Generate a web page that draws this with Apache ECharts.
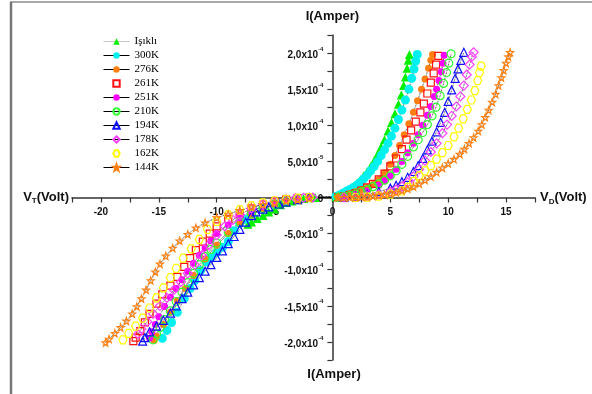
<!DOCTYPE html>
<html>
<head>
<meta charset="utf-8">
<script src="https://cdn.jsdelivr.net/npm/echarts@6/dist/echarts.min.js"></script>
<style>
  html, body { margin: 0; padding: 0; background: #fff; }
  #main { width: 592px; height: 394px; }
</style>
</head>
<body>
<div id="main"></div>
<script>
// series names (legend order)
var names = ['Işıklı', '300K', '276K', '261K', '251K', '210K', '194K', '178K', '162K', '144K'];

// current in units of 1e-5 A, voltage in V
// forward side (V_D > 0)
var fwdLight = [[0.3,0.1],[0.6,0.3],[0.9,0.5],[1.2,0.8],[1.5,1.1],[1.8,1.5],[2.1,1.9],[2.4,2.4],[2.7,3.0],[3.0,3.6],[3.3,4.3],[3.6,5.1],[3.9,6.0],[4.2,7.0],[4.5,8.0],[4.8,9.2],[5.1,10.4],[5.4,11.6],[5.7,12.9],[5.95,14.2],[6.15,15.5],[6.3,16.7],[6.45,17.9],[6.55,19.0],[6.65,19.8]];
var fwd300 = [[0.3,0.15],[0.6,0.35],[0.9,0.6],[1.2,0.85],[1.5,1.1],[1.8,1.4],[2.1,1.7],[2.4,2.1],[2.7,2.6],[3.0,3.1],[3.3,3.7],[3.6,4.3],[3.9,5.0],[4.2,5.8],[4.5,6.6],[4.8,7.5],[5.1,8.5],[5.4,9.6],[5.7,10.8],[6.0,12.1],[6.3,13.5],[6.6,15.0],[6.85,16.5],[7.05,17.8],[7.2,18.9],[7.33,19.8]];
var fwd276 = [[0.5,0.1],[1.0,0.3],[1.5,0.55],[2.0,0.8],[2.5,1.1],[3.0,1.4],[3.5,1.8],[4.0,2.5],[4.5,3.4],[5.0,4.6],[5.4,5.8],[5.8,7.2],[6.2,8.7],[6.6,10.2],[7.0,11.8],[7.35,13.4],[7.7,15.0],[8.0,16.4],[8.3,17.9],[8.5,19.0],[8.65,19.8]];
var fwd261 = [[0.5,0.05],[1.0,0.15],[1.5,0.35],[2.0,0.6],[2.5,0.95],[3.0,1.4],[3.5,1.9],[4.0,2.5],[4.5,3.3],[5.0,4.3],[5.5,5.4],[6.0,6.7],[6.4,8.0],[6.8,9.3],[7.2,10.5],[7.6,11.8],[7.9,13.0],[8.2,14.4],[8.5,15.9],[8.75,17.2],[8.95,18.4],[9.15,19.6]];
var fwd251 = [[1.0,0.1],[2.0,0.4],[3.0,0.9],[4.0,1.7],[4.5,2.3],[5.0,3.0],[5.5,3.9],[6.0,5.0],[6.5,6.2],[7.0,7.5],[7.4,8.7],[7.8,10.0],[8.2,11.4],[8.5,12.6],[8.8,14.0],[9.0,15.0],[9.2,16.2],[9.4,17.4],[9.55,18.6],[9.65,19.7]];
var fwd210 = [[0.5,0.05],[1.0,0.15],[1.5,0.3],[2.0,0.5],[2.5,0.8],[3.0,1.1],[3.5,1.5],[4.0,1.9],[4.5,2.4],[5.0,3.0],[5.5,3.7],[6.0,4.6],[6.5,5.7],[7.0,7.0],[7.4,8.0],[7.8,9.0],[8.2,10.1],[8.6,11.3],[8.95,12.5],[9.3,14.1],[9.6,15.8],[9.85,17.3],[10.05,18.6],[10.25,19.9]];
var fwd194 = [[1.0,0.02],[2.0,0.15],[3.0,0.4],[4.0,0.8],[5.0,1.3],[5.5,1.7],[6.0,2.2],[6.5,2.8],[7.0,3.6],[7.4,4.4],[7.8,5.4],[8.2,6.6],[8.6,7.8],[9.0,9.1],[9.35,10.4],[9.7,11.8],[10.0,13.3],[10.3,14.9],[10.6,16.5],[10.85,17.8],[11.1,19.0],[11.35,20.1]];
var fwd178 = [[1.0,0.0],[2.0,0.05],[3.0,0.2],[4.0,0.45],[5.0,0.8],[5.5,1.1],[6.0,1.5],[6.5,2.1],[7.0,2.9],[7.5,3.9],[8.0,5.1],[8.5,6.3],[9.0,7.5],[9.5,8.9],[9.9,10.1],[10.3,11.3],[10.7,12.6],[11.05,14.0],[11.35,15.5],[11.6,17.0],[11.85,18.4],[12.05,19.5],[12.2,20.1]];
var fwd162 = [[2.0,0.0],[3.0,0.05],[4.0,0.2],[5.0,0.45],[6.0,0.9],[6.5,1.4],[7.0,2.2],[7.5,3.0],[8.0,3.7],[8.5,4.4],[9.0,5.3],[9.5,6.2],[10.0,7.2],[10.5,8.4],[10.9,9.6],[11.3,10.9],[11.65,12.2],[12.0,13.5],[12.3,14.8],[12.55,16.2],[12.7,17.3],[12.85,18.2]];
var fwd144 = [[0.5,0],[1.0,0],[1.5,0.02],[2.0,0.05],[2.5,0.08],[3.0,0.1],[3.5,0.2],[4.0,0.3],[4.5,0.4],[5.0,0.55],[5.5,0.7],[6.0,0.95],[6.5,1.2],[7.0,1.5],[7.5,1.9],[8.0,2.4],[8.5,2.9],[9.0,3.5],[9.5,4.1],[10.0,4.7],[10.5,5.3],[11.0,6.0],[11.4,6.7],[11.8,7.5],[12.2,8.3],[12.6,9.2],[12.9,10.1],[13.2,11.1],[13.5,12.1],[13.8,13.2],[14.1,14.3],[14.35,15.5],[14.6,16.6],[14.8,17.6],[15.0,18.6],[15.2,19.5],[15.35,20.1]];

// reverse side (V_T < 0)
var revLight = [[-1.5,0],[-2.0,-0.05],[-2.5,-0.15],[-3.0,-0.3],[-3.5,-0.5],[-4.0,-0.7],[-4.5,-1.0],[-5.0,-1.6],[-5.5,-2.0],[-6.0,-2.5],[-6.5,-2.9],[-7.0,-3.4],[-7.3,-3.7]];
var rev300 = [[-2.0,0],[-3.0,-0.2],[-4.0,-0.5],[-5.0,-0.9],[-6.0,-1.5],[-7.0,-2.4],[-7.5,-3.0],[-8.0,-3.6],[-8.5,-4.6],[-9.0,-6.1],[-9.5,-6.9],[-10.0,-7.6],[-10.5,-8.3],[-10.9,-8.9],[-11.4,-10.1],[-11.9,-11.5],[-12.3,-12.6],[-12.8,-14.0],[-13.4,-15.9],[-13.9,-17.3],[-14.3,-18.4],[-14.7,-19.5]];
var rev276 = [[-2.0,0],[-3.0,-0.2],[-4.0,-0.5],[-5.0,-1.0],[-6.0,-1.6],[-7.0,-2.5],[-8.0,-3.6],[-9.0,-5.0],[-10.0,-6.6],[-11.0,-8.5],[-12.0,-10.8],[-12.7,-12.6],[-13.4,-14.3],[-14.0,-15.9],[-14.6,-17.6],[-15.2,-19.2],[-15.4,-19.8]];
var rev261 = [[-2.0,0],[-3.0,-0.1],[-4.0,-0.3],[-5.0,-0.6],[-6.0,-1.0],[-7.0,-1.5],[-8.0,-2.2],[-9.0,-3.0],[-10.0,-4.0],[-10.6,-5.0],[-11.2,-6.1],[-11.8,-7.3],[-12.3,-8.4],[-12.8,-9.6],[-13.4,-11.0],[-14.0,-12.2],[-14.7,-13.4],[-15.2,-14.7],[-15.8,-16.1],[-16.2,-17.3],[-16.6,-18.5],[-17.0,-19.4],[-17.2,-19.9]];
var rev251 = [[-2.0,0],[-3.0,-0.15],[-4.0,-0.4],[-5.0,-0.75],[-6.0,-1.2],[-7.0,-1.9],[-8.0,-2.8],[-9.0,-3.8],[-10.0,-5.0],[-10.5,-6.0],[-11.0,-7.0],[-11.5,-8.0],[-12.0,-9.1],[-12.5,-10.2],[-13.0,-11.4],[-13.5,-12.6],[-14.0,-13.8],[-14.5,-15.1],[-15.0,-16.5],[-15.3,-17.6],[-15.6,-18.6],[-15.8,-19.5]];
var rev210 = [[-2.0,0],[-3.0,-0.2],[-4.0,-0.5],[-5.0,-0.9],[-6.0,-1.5],[-7.0,-2.3],[-8.0,-3.4],[-9.0,-4.8],[-10.0,-6.3],[-10.5,-7.2],[-11.0,-8.2],[-11.5,-9.3],[-12.0,-10.5],[-12.5,-11.8],[-13.0,-13.1],[-13.5,-14.4],[-14.0,-15.7],[-14.5,-16.9],[-14.9,-18.0],[-15.2,-18.9],[-15.5,-19.7]];
var rev194 = [[-2.0,0],[-3.0,-0.3],[-4.0,-0.6],[-4.6,-0.9],[-5.5,-1.3],[-6.0,-1.6],[-6.6,-2.0],[-7.0,-2.5],[-7.5,-3.4],[-8.0,-4.4],[-8.5,-5.4],[-9.0,-6.4],[-9.5,-7.4],[-10.0,-8.3],[-10.5,-9.3],[-11.0,-10.2],[-11.5,-11.1],[-12.0,-12.1],[-12.5,-13.1],[-13.0,-14.0],[-13.5,-15.0],[-14.0,-16.0],[-14.6,-17.0],[-15.2,-17.8],[-15.8,-18.6],[-16.2,-19.4],[-16.4,-19.9]];
var rev178 = [[-1.7,0],[-2.5,-0.05],[-3.2,-0.1],[-4.0,-0.25],[-5.0,-0.5],[-6.0,-0.9],[-7.0,-1.5],[-8.0,-2.4],[-8.6,-3.1],[-9.3,-4.0],[-10.0,-5.2],[-10.7,-6.6],[-11.3,-8.0],[-11.9,-9.3],[-12.5,-10.5],[-13.1,-11.7],[-13.7,-12.8],[-14.3,-13.9],[-14.9,-15.0],[-15.5,-16.1],[-16.0,-17.2],[-16.5,-18.2],[-16.8,-18.9]];
var rev162 = [[-2.0,0],[-3.0,-0.1],[-4.0,-0.25],[-5.0,-0.45],[-6.0,-0.75],[-7.0,-1.15],[-8.0,-1.7],[-9.0,-2.4],[-10.0,-3.3],[-10.8,-4.4],[-11.5,-5.8],[-12.2,-7.1],[-12.9,-8.4],[-13.5,-9.8],[-14.0,-11.1],[-14.6,-12.5],[-15.2,-13.9],[-15.8,-15.3],[-16.4,-16.7],[-17.0,-17.8],[-17.6,-18.8],[-18.1,-19.7]];
var rev144 = [[-2.0,-0.1],[-3.0,-0.3],[-4.0,-0.45],[-5.0,-0.7],[-6.0,-1.0],[-7.0,-1.3],[-8.0,-1.8],[-9.0,-2.3],[-10.0,-2.8],[-11.0,-3.5],[-11.8,-4.2],[-12.5,-5.1],[-13.2,-6.0],[-13.8,-7.0],[-14.4,-8.1],[-14.9,-9.2],[-15.3,-10.3],[-15.7,-11.5],[-16.1,-12.8],[-16.5,-14.0],[-16.9,-15.1],[-17.3,-16.1],[-17.8,-17.1],[-18.3,-18.0],[-18.8,-18.8],[-19.3,-19.6],[-19.6,-20.1]];

// tick labels
var xTicks = [-20, -15, -10, -5, 0, 5, 10, 15];
var yTicks = [-20, -15, -10, -5, 0, 5, 10, 15, 20];
var yMant = ['-2,0x10', '-1,5x10', '-1,0x10', '-5,0x10', '0', '5,0x10', '1,0x10', '1,5x10', '2,0x10'];
var yExp = ['-4', '-4', '-4', '-5', '', '-5', '-4', '-4', '-4'];

var fwd = [fwdLight, fwd300, fwd276, fwd261, fwd251, fwd210, fwd194, fwd178, fwd162, fwd144];
var rev = [revLight, rev300, rev276, rev261, rev251, rev210, rev194, rev178, rev162, rev144];

var star = 'path://M0,-10L2.35,-3.24L9.51,-3.09L3.8,1.24L5.88,8.09L0,4L-5.88,8.09L-3.8,1.24L-9.51,-3.09L-2.35,-3.24Z';
var hexa = 'path://M-10,0L-5,-8.66L5,-8.66L10,0L5,8.66L-5,8.66Z';

// look of each series: [color, symbol, filled, size, line color]
var looks = [
  ['#00f000', 'triangle', true, 9, '#c8c8c8'],
  ['#00f0f0', 'circle', true, 9, '#000'],
  ['#ff8010', 'circle', true, 7, '#000'],
  ['#ff1010', 'rect', false, 7, null],
  ['#ff00ff', 'circle', true, 7, '#000'],
  ['#30ff30', 'circle', false, 8, '#000'],
  ['#1010ff', 'triangle', false, 8, '#000'],
  ['#ff40ff', 'diamond', false, 9, '#000'],
  ['#ffff00', hexa, false, 8, null],
  ['#ff8010', star, false, 7, '#000']
];

var series = names.map(function (n, k) {
  var lk = looks[k];
  var pts = rev[k].slice().reverse().concat(fwd[k]);
  return {
    name: n,
    type: 'line',
    data: pts,
    symbol: lk[1],
    symbolSize: lk[3],
    showAllSymbol: true,
    animation: false,
    itemStyle: lk[2]
      ? { color: lk[0] }
      : { color: 'rgba(255,255,255,0)', borderColor: lk[0], borderWidth: 1.2 },
    lineStyle: lk[4]
      ? { color: lk[4], width: 0.8, type: 'dotted' }
      : { width: 0, opacity: 0 },
    emphasis: { disabled: true }
  };
});

var labelFont = { fontFamily: 'Liberation Sans', fontWeight: 'bold', fontSize: 10, color: '#111' };

var chart = echarts.init(document.getElementById('main'));
chart.setOption({
  backgroundColor: '#fff',
  animation: false,
  grid: { left: 72, right: 57, top: 35, bottom: 34 },
  legend: {
    data: names,
    orient: 'vertical',
    left: 98,
    top: 31,
    itemWidth: 26,
    itemHeight: 8,
    itemGap: 3,
    lineStyle: { width: 1, type: 'solid' },
    textStyle: { fontFamily: 'Liberation Serif', fontSize: 11, color: '#000' }
  },
  xAxis: {
    type: 'value',
    min: -22.5,
    max: 17.5,
    interval: 2.5,
    offset: -162.5,
    name: 'V{s|D}(Volt)',
    nameLocation: 'end',
    nameGap: 5,
    nameTextStyle: {
      fontFamily: 'Liberation Sans', fontWeight: 'bold', fontSize: 13, color: '#111',
      rich: { s: { fontSize: 8, fontWeight: 'bold', verticalAlign: 'bottom', padding: [8, 0, 0, 0] } }
    },
    axisLine: { onZero: false, lineStyle: { color: '#333', width: 1.5 } },
    axisTick: { length: 5, lineStyle: { color: '#333', width: 1.2 } },
    splitLine: { show: false },
    axisLabel: Object.assign({
      margin: 10,
      formatter: function (v) { return xTicks.indexOf(v) >= 0 ? String(v) : ''; }
    }, labelFont)
  },
  yAxis: {
    type: 'value',
    min: -22.5,
    max: 22.5,
    interval: 2.5,
    offset: -260.4,
    name: 'I(Amper)',
    nameLocation: 'end',
    nameGap: 12,
    nameTextStyle: { fontFamily: 'Liberation Sans', fontWeight: 'bold', fontSize: 13, color: '#111' },
    axisLine: { onZero: false, lineStyle: { color: '#333', width: 1.5 } },
    axisTick: { length: 5, lineStyle: { color: '#333', width: 1.2 } },
    splitLine: { show: false },
    axisLabel: Object.assign({
      margin: 9,
      formatter: function (v) {
        var k = yTicks.indexOf(v);
        if (k < 0) return '';
        if (!yExp[k]) return '{b|' + yMant[k] + '}';
        return '{b|' + yMant[k] + '}{s|' + yExp[k] + '}';
      },
      rich: {
        b: { fontFamily: 'Liberation Sans', fontWeight: 'bold', fontSize: 10, color: '#111', lineHeight: 14, verticalAlign: 'bottom' },
        s: { fontFamily: 'Liberation Sans', fontWeight: 'bold', fontSize: 6, color: '#111', lineHeight: 14, verticalAlign: 'top' }
      }
    }, labelFont)
  },
  graphic: [
    { type: 'line', shape: { x1: 10, y1: 2, x2: 592, y2: 2 }, style: { stroke: '#aaa', lineWidth: 2 } },
    { type: 'line', shape: { x1: 11, y1: 2, x2: 11, y2: 394 }, style: { stroke: '#777', lineWidth: 2.5 } },
    {
      type: 'text', x: 69, y: 197,
      style: {
        text: 'V{s|T}(Volt)', textAlign: 'right', textVerticalAlign: 'middle',
        font: 'bold 13px "Liberation Sans"', fill: '#111',
        rich: { s: { fontSize: 8, fontWeight: 'bold', fontFamily: 'Liberation Sans', verticalAlign: 'bottom', padding: [8, 0, 0, 0] } }
      }
    },
    {
      type: 'text', x: 334, y: 374,
      style: {
        text: 'I(Amper)', textAlign: 'center', textVerticalAlign: 'middle',
        font: 'bold 13px "Liberation Sans"', fill: '#111'
      }
    }
  ],
  series: series
});
</script>
</body>
</html>
